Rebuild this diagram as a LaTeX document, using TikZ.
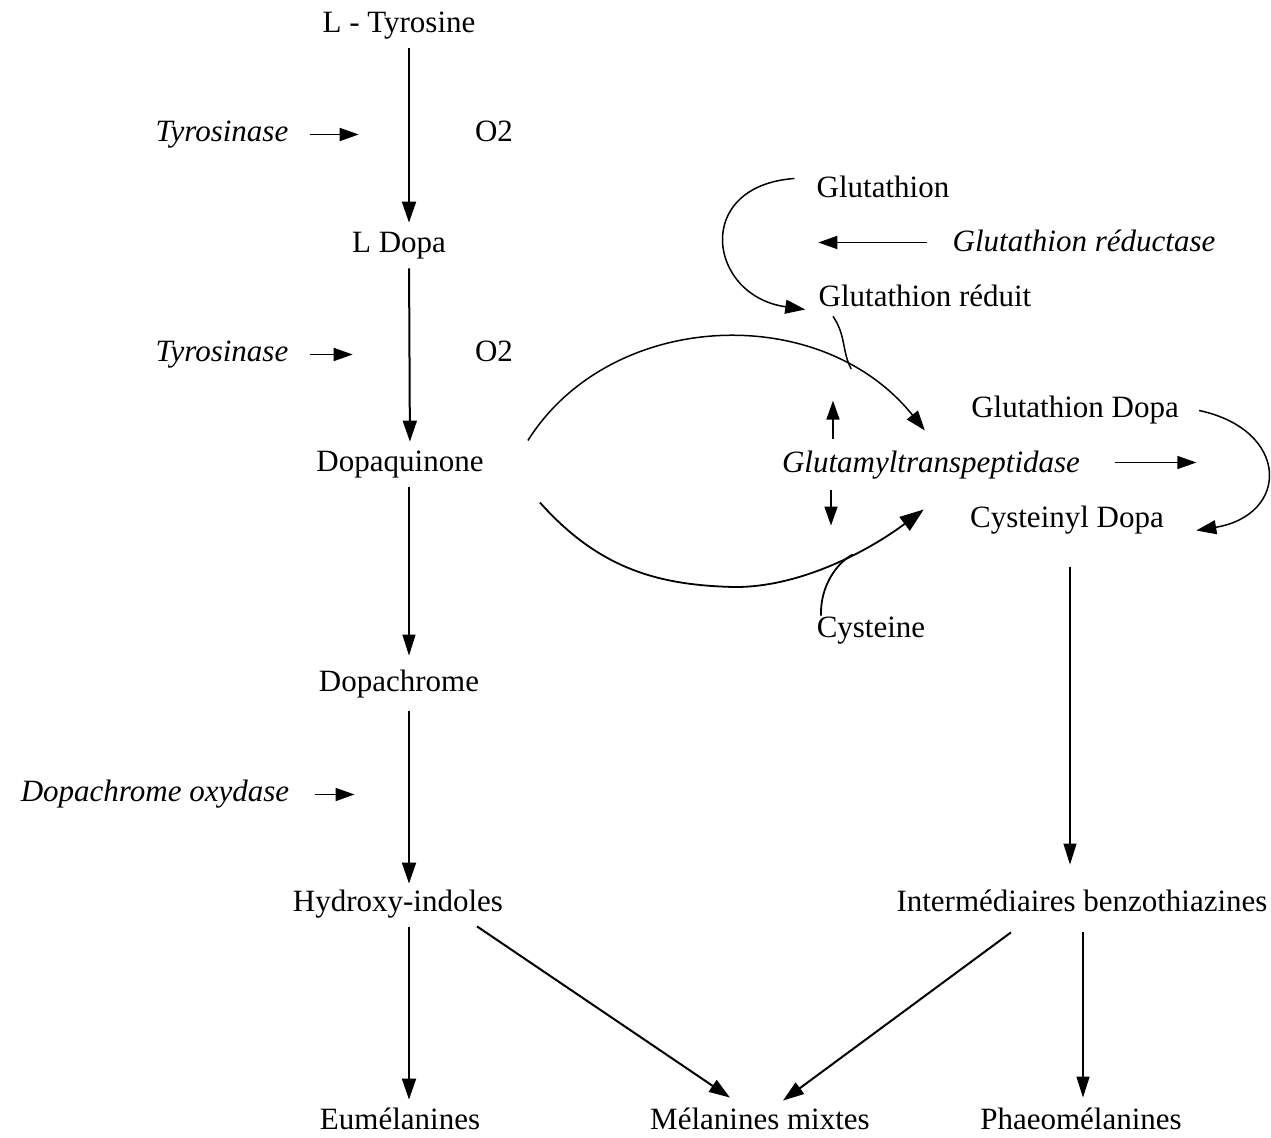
\documentclass[tikz,border=0pt]{standalone}
\usepackage{fontspec}
\setmainfont{Liberation Serif}
\usetikzlibrary{arrows.meta}
\begin{document}
\begin{tikzpicture}[x=0.5pt,y=-0.5pt,
  lbl/.style={anchor=base,inner sep=0pt,text height=0.7em,text depth=0.25em,font=\fontsize{15.5pt}{18pt}\selectfont},
  enz/.style={lbl,font=\fontsize{15.5pt}{18pt}\selectfont\itshape},
  arr/.style={-{Triangle[length=10.5pt,width=7pt]},line width=1pt},
  tarr/.style={-{Triangle[length=10.5pt,width=6.5pt]},line width=0.6pt},
  sarr/.style={-{Triangle[length=9.5pt,width=6.5pt]},line width=0.8pt},
  carr/.style={-{Triangle[length=10pt,width=7pt]},line width=0.75pt},
  barr/.style={-{Triangle[length=12pt,width=8.5pt]},line width=0.9pt},
  vgap/.style={shorten <=5pt,shorten >=8pt},
]
\useasboundingbox (0,0) rectangle (1271,1138);

% left column
\node[lbl] (tyr) at (399,33) {L - Tyrosine};
\node[lbl] (ldopa) at (399,253) {L Dopa};
\node[lbl] (dq) at (400,472) {Dopaquinone};
\node[lbl] (dc) at (399,692) {Dopachrome};
\node[lbl] (hyd) at (398,912) {Hydroxy-indoles};
\node[lbl] (eum) at (400,1130) {Eumélanines};
\node[lbl] (mix) at (760,1130) {Mélanines mixtes};
\node[lbl] (pheo) at (1081,1130) {Phaeomélanines};
\node[lbl] (int) at (1082,912) {Intermédiaires benzothiazines};

\node[enz] (ty1) at (222,142) {Tyrosinase};
\node[lbl] (o1) at (494,142) {O2};
\node[enz] (ty2) at (222,362) {Tyrosinase};
\node[lbl] (o2) at (494,362) {O2};
\node[enz] (dco) at (155,802) {Dopachrome oxydase};

% right part
\node[lbl] (glu) at (883,198) {Glutathion};
\node[enz] (glred) at (1084,252) {Glutathion réductase};
\node[lbl] (glr) at (925,307) {Glutathion réduit};
\node[lbl] (gld) at (1075,418) {Glutathion Dopa};
\node[enz] (gtp) at (931,473) {Glutamyltranspeptidase};
\node[lbl] (cyd) at (1067,528) {Cysteinyl Dopa};
\node[lbl] (cys) at (871,638) {Cysteine};

% vertical arrows left column
\draw[arr,vgap] ([xshift=5pt]tyr.south) -- ([xshift=5pt]ldopa.north);
\draw[arr,vgap] ([xshift=5pt]ldopa.south) -- ([xshift=5pt]dq.north);
\draw[tarr,shorten <=5pt,shorten >=11pt] ([xshift=4.5pt]dq.south) -- ([xshift=5pt]dc.north);
\draw[arr,shorten <=7pt,shorten >=7pt] ([xshift=5pt]dc.south) -- ([xshift=5.5pt]hyd.north);
\draw[arr,shorten <=5pt,shorten >=8pt] ([xshift=5.5pt]hyd.south) -- ([xshift=4.5pt]eum.north);

% enzyme arrows
\draw[sarr] ([xshift=10.5pt,yshift=1.5pt]ty1.east) -- ([xshift=35pt,yshift=1.5pt]ty1.east);
\draw[sarr] ([xshift=10.5pt,yshift=1.5pt]ty2.east) -- ([xshift=32pt,yshift=1.5pt]ty2.east);
\draw[sarr] ([xshift=12.5pt,yshift=1.5pt]dco.east) -- ([xshift=32.5pt,yshift=1.5pt]dco.east);

% bottom
\draw[arr] ([xshift=39.5pt,yshift=-4.5pt]hyd.south) -- ([xshift=-15pt,yshift=9pt]mix.north);
\draw[arr] ([xshift=-35.5pt,yshift=-7.5pt]int.south) -- ([xshift=11.5pt,yshift=7.5pt]mix.north);
\draw[tarr] ([xshift=0.5pt,yshift=-7.5pt]int.south) -- ([xshift=1pt,yshift=9pt]pheo.north);
\draw[tarr] ([xshift=1.5pt,yshift=-17pt]cyd.south) -- ([xshift=-6pt,yshift=16.5pt]int.north);

% right side arrows
\draw[sarr] ([xshift=-12.5pt,yshift=2.5pt]glred.west) -- ([xshift=-67pt,yshift=2.5pt]glred.west);
\draw[sarr] ([xshift=17.5pt,yshift=3pt]gtp.east) -- ([xshift=58pt,yshift=3pt]gtp.east);
\draw[sarr] ([xshift=-49pt,yshift=9.6pt]gtp.north) -- ([xshift=-49pt,yshift=29pt]gtp.north);
\draw[sarr] ([xshift=-50pt,yshift=-5.6pt]gtp.south) -- ([xshift=-50pt,yshift=-23.6pt]gtp.south);

% curves
\draw[carr] ([xshift=-11pt,yshift=7.5pt]glu.west) .. controls (692,186) and (708,296) .. ([xshift=-6.5pt,yshift=-3.5pt]glr.west);
\draw[carr] ([xshift=22pt,yshift=13.5pt]dq.east) .. controls (610,310) and (820,300) .. coordinate[pos=0.8] (mgA) ([xshift=-23pt,yshift=-8.5pt]gld.west);
\draw[line width=0.75pt] ([xshift=-46pt,yshift=-2pt]glr.south) .. controls (846,335) and (842,352) .. (mgA);
\draw[barr] ([xshift=28pt,yshift=-17.5pt]dq.east) .. controls (600,570) and (660,585) .. (733,587)
   .. controls (800,588) and (870,550) .. coordinate[pos=0.6] (mgB) ([xshift=-23pt,yshift=7pt]cyd.west);
\draw[line width=0.9pt] ([xshift=-25pt,yshift=4pt]cys.north) .. controls (820,585) and (838,562) .. (mgB);
\draw[carr] ([xshift=10pt,yshift=1.5pt]gld.east) .. controls (1290,430) and (1290,515) .. ([xshift=16pt,yshift=-3.5pt]cyd.east);
\end{tikzpicture}
\end{document}
